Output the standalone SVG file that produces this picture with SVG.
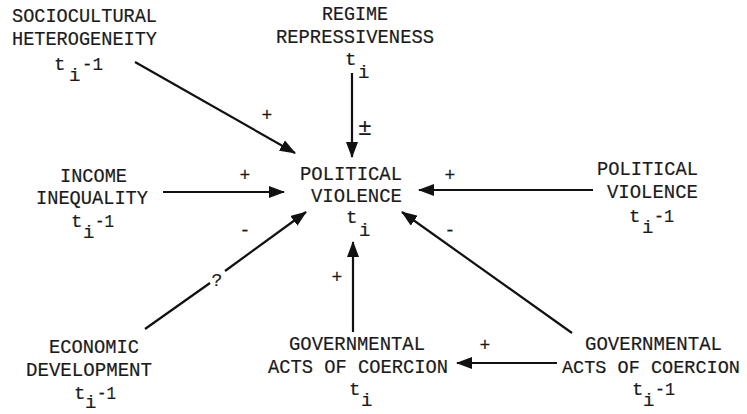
<svg xmlns="http://www.w3.org/2000/svg" width="747" height="414" viewBox="0 0 747 414">
<defs>
<marker id="ah" markerUnits="userSpaceOnUse" markerWidth="16" markerHeight="12" refX="15" refY="6" orient="auto">
<path d="M0,0 L16,6 L0,12 Z" fill="#111"/>
</marker>
<style>
text{font-family:"Liberation Mono","Courier New",monospace;font-size:21px;fill:#1a1a1a;stroke:#1a1a1a;stroke-width:0.2}
.s{font-size:19px}
.l{font-size:18px}
.pm{font-size:23px}
.c line{stroke:#111;stroke-width:2.2;fill:none}
.c .a{marker-end:url(#ah)}
</style>
</defs>
<rect width="747" height="414" fill="#fff"/>
<g id="socio">
<text x="12" y="22" textLength="145" lengthAdjust="spacingAndGlyphs">SOCIOCULTURAL</text>
<text x="12" y="45" textLength="145" lengthAdjust="spacingAndGlyphs">HETEROGENEITY</text>
<text x="54" y="70" class="s">t</text><text x="69" y="81" class="s">i</text><text x="82" y="70" class="s" textLength="21" lengthAdjust="spacingAndGlyphs">-1</text>
</g>
<g id="regime">
<text x="322" y="20" textLength="66" lengthAdjust="spacingAndGlyphs">REGIME</text>
<text x="276" y="43" textLength="158" lengthAdjust="spacingAndGlyphs">REPRESSIVENESS</text>
<text x="345" y="65" class="s">t</text><text x="358" y="78" class="s">i</text>
</g>
<g id="pv">
<text x="300" y="180" textLength="102" lengthAdjust="spacingAndGlyphs">POLITICAL</text>
<text x="311" y="202" textLength="91" lengthAdjust="spacingAndGlyphs">VIOLENCE</text>
<text x="346" y="223" class="s">t</text><text x="359" y="236" class="s">i</text>
</g>
<g id="income">
<text x="60" y="182" textLength="67" lengthAdjust="spacingAndGlyphs">INCOME</text>
<text x="36" y="204" textLength="112" lengthAdjust="spacingAndGlyphs">INEQUALITY</text>
<text x="71" y="227" class="s">t</text><text x="83" y="238" class="s">i</text><text x="95" y="227" class="s" textLength="19" lengthAdjust="spacingAndGlyphs">-1</text>
</g>
<g id="pvlag">
<text x="597" y="175" textLength="101" lengthAdjust="spacingAndGlyphs">POLITICAL</text>
<text x="607" y="198" textLength="91" lengthAdjust="spacingAndGlyphs">VIOLENCE</text>
<text x="629" y="222" class="s">t</text><text x="642" y="233" class="s">i</text><text x="654" y="222" class="s" textLength="20" lengthAdjust="spacingAndGlyphs">-1</text>
</g>
<g id="econ">
<text x="49" y="353" textLength="90" lengthAdjust="spacingAndGlyphs">ECONOMIC</text>
<text x="26" y="376" textLength="126" lengthAdjust="spacingAndGlyphs">DEVELOPMENT</text>
<text x="74" y="399" class="s">t</text><text x="85" y="408" class="s">i</text><text x="97" y="399" class="s" textLength="19" lengthAdjust="spacingAndGlyphs">-1</text>
</g>
<g id="govt">
<text x="289" y="350" textLength="136" lengthAdjust="spacingAndGlyphs">GOVERNMENTAL</text>
<text x="268" y="373" textLength="180" lengthAdjust="spacingAndGlyphs">ACTS OF COERCION</text>
<text x="349" y="395" class="s">t</text><text x="361" y="406" class="s">i</text>
</g>
<g id="govlag">
<text x="585" y="350" textLength="137" lengthAdjust="spacingAndGlyphs">GOVERNMENTAL</text>
<text x="562" y="373" class="s" textLength="178" lengthAdjust="spacingAndGlyphs">ACTS OF COERCION</text>
<text x="632" y="395" class="s">t</text><text x="643" y="406" class="s">i</text><text x="655" y="395" class="s" textLength="20" lengthAdjust="spacingAndGlyphs">-1</text>
</g>
<g id="connectors" class="c">
<line class="a" x1="135" y1="62" x2="295" y2="153"/>
<line class="a" x1="352" y1="73" x2="352" y2="157"/>
<line class="a" x1="163" y1="192" x2="284" y2="192"/>
<line class="a" x1="593" y1="190" x2="419" y2="190"/>
<line x1="145" y1="329" x2="210" y2="283"/>
<line class="a" x1="225" y1="271" x2="306" y2="212"/>
<line class="a" x1="353" y1="332" x2="353" y2="242"/>
<line class="a" x1="572" y1="333" x2="402" y2="212"/>
<line class="a" x1="557" y1="363" x2="457" y2="363"/>
</g>
<g id="labels">
<text x="267" y="121" class="l" text-anchor="middle">+</text>
<text x="365" y="135" class="pm" text-anchor="middle">±</text>
<text x="245" y="181" class="l" text-anchor="middle">+</text>
<text x="245" y="236" class="l" text-anchor="middle">-</text>
<text x="217" y="286" class="l" text-anchor="middle">?</text>
<text x="450" y="181" class="l" text-anchor="middle">+</text>
<text x="450" y="236" class="l" text-anchor="middle">-</text>
<text x="337" y="283" class="l" text-anchor="middle">+</text>
<text x="485" y="351" class="l" text-anchor="middle">+</text>
</g>
</svg>
